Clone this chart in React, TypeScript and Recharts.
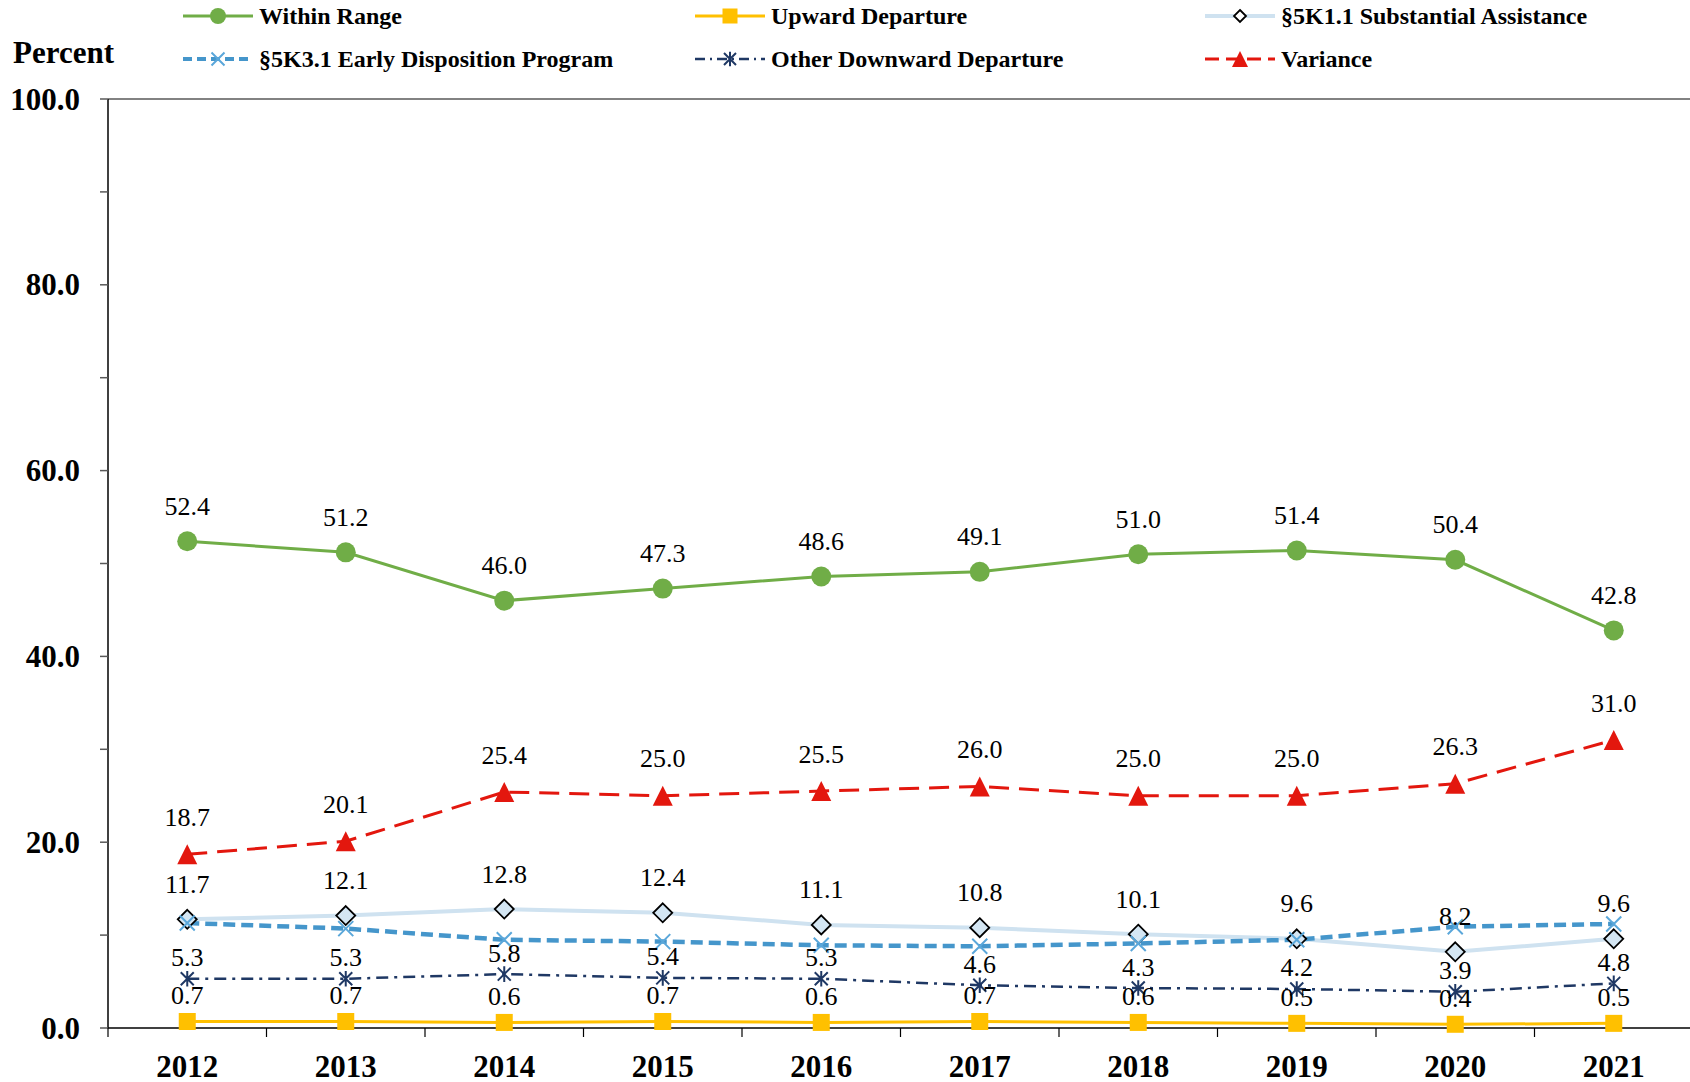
import React from "react";
import {LineChart, Line, XAxis, YAxis, ReferenceLine, LabelList} from "recharts";

const years = ["2012", "2013", "2014", "2015", "2016", "2017", "2018", "2019", "2020", "2021"];
const withinRange = [52.4, 51.2, 46.0, 47.3, 48.6, 49.1, 51.0, 51.4, 50.4, 42.8];
const upwardDeparture = [0.7, 0.7, 0.6, 0.7, 0.6, 0.7, 0.6, 0.5, 0.4, 0.5];
const substantialAssistance = [11.7, 12.1, 12.8, 12.4, 11.1, 10.8, 10.1, 9.6, 8.2, 9.6];
const earlyDisposition = [11.3, 10.7, 9.5, 9.3, 8.9, 8.8, 9.1, 9.5, 10.9, 11.2];
const otherDownward = [5.3, 5.3, 5.8, 5.4, 5.3, 4.6, 4.3, 4.2, 3.9, 4.8];
const variance = [18.7, 20.1, 25.4, 25.0, 25.5, 26.0, 25.0, 25.0, 26.3, 31.0];
const yTicks = [0, 10, 20, 30, 40, 50, 60, 70, 80, 90, 100];

const data = years.map((year, i) => ({
  i,
  year,
  within: withinRange[i],
  upward: upwardDeparture[i],
  assist: substantialAssistance[i],
  early: earlyDisposition[i],
  other: otherDownward[i],
  variance: variance[i],
}));

const FONT = '"Liberation Serif", "Times New Roman", serif';
const W = 1690;
const H = 1082;
const Y_AXIS_W = 108;
const RIGHT = -3; // plot runs a little past the window edge, as in the original
const BW = (W - Y_AXIS_W - RIGHT) / years.length;

const GREEN = "#70AD47";
const GOLD = "#FFC000";
const PALE = "#CFE2F0";
const MID_BLUE = "#4596CB";
const X_BLUE = "#5AA7DA";
const NAVY = "#1F3864";
const RED = "#E3170E";

// marker shapes
const circle = (cx: number, cy: number, r: number) => <circle cx={cx} cy={cy} r={r} fill={GREEN} />;
const square = (cx: number, cy: number, s: number) => (
  <rect x={cx - s / 2} y={cy - s / 2} width={s} height={s} fill={GOLD} />
);
const diamond = (cx: number, cy: number, s: number, fill = "#D4E6F3") => (
  <path d={`M${cx},${cy - s / 2} L${cx + s / 2},${cy} L${cx},${cy + s / 2} L${cx - s / 2},${cy} Z`} fill={fill} stroke="#000" strokeWidth={1.8} />
);
const cross = (cx: number, cy: number, s: number) => (
  <path d={`M${cx - s / 2},${cy - s / 2} L${cx + s / 2},${cy + s / 2} M${cx - s / 2},${cy + s / 2} L${cx + s / 2},${cy - s / 2}`} stroke={X_BLUE} strokeWidth={2} fill="none" />
);
const star = (cx: number, cy: number, s: number) => (
  <path d={`M${cx - s / 2},${cy - s / 2} L${cx + s / 2},${cy + s / 2} M${cx - s / 2},${cy + s / 2} L${cx + s / 2},${cy - s / 2} M${cx},${cy - s * 0.6} L${cx},${cy + s * 0.6}`} stroke={NAVY} strokeWidth={2} fill="none" />
);
const triangle = (cx: number, cy: number, s: number) => (
  <path d={`M${cx},${cy - s / 2} L${cx + s / 2},${cy + s / 2} L${cx - s / 2},${cy + s / 2} Z`} fill={RED} />
);

const dotOf = (draw: (cx: number, cy: number) => React.ReactElement) => (props: any) => (
  <g key={`d-${props.index}`}>{draw(props.cx, props.cy)}</g>
);

const makeLabel = (dy: number) => (props: any) => {
  const {x, y, value} = props;
  return (
    <text x={x} y={y - dy} textAnchor="middle" dominantBaseline="central" fontSize={26} fontFamily={FONT} fill="#000">
      {Number(value).toFixed(1)}
    </text>
  );
};

const YTick = ({x, y, payload}: any) => {
  if (payload.value % 20 !== 0) return <g />;
  return (
    <text x={x} y={y} textAnchor="end" dominantBaseline="central" fontSize={31} fontWeight="bold" fontFamily={FONT} fill="#000">
      {payload.value.toFixed(1)}
    </text>
  );
};

const XTick = ({x, y, payload}: any) => (
  <g>
    <line x1={x - BW / 2} x2={x - BW / 2} y1={y} y2={y + 9} stroke="#000" strokeWidth={1.2} />
    <text x={x} y={y + 38} textAnchor="middle" dominantBaseline="central" fontSize={31} fontWeight="bold" fontFamily={FONT} fill="#000">
      {years[payload.value]}
    </text>
  </g>
);

type LegendItem = {
  name: string;
  left: number;
  top: number;
  color: string;
  width: number;
  dash?: string;
  marker: (cx: number, cy: number) => React.ReactElement;
};

const legendItems: LegendItem[] = [
  {name: "Within Range", left: 183, top: 16, color: GREEN, width: 3, marker: (cx, cy) => circle(cx, cy, 8)},
  {name: "Upward Departure", left: 695, top: 16, color: GOLD, width: 3, marker: (cx, cy) => square(cx, cy, 15)},
  {name: "§5K1.1 Substantial Assistance", left: 1205, top: 16, color: PALE, width: 4, marker: (cx, cy) => diamond(cx, cy, 12, "#FFFFFF")},
  {name: "§5K3.1 Early Disposition Program", left: 183, top: 59, color: MID_BLUE, width: 4, dash: "9 5", marker: (cx, cy) => cross(cx, cy, 13)},
  {name: "Other Downward Departure", left: 695, top: 59, color: NAVY, width: 2.5, dash: "10 5 2 5", marker: (cx, cy) => star(cx, cy, 12)},
  {name: "Variance", left: 1205, top: 59, color: RED, width: 3, dash: "14 7", marker: (cx, cy) => triangle(cx, cy, 16)},
];

const ChartLegend = () => (
  <>
    {legendItems.map((item) => (
      <div
        key={item.name}
        style={{position: "absolute", left: item.left, top: item.top - 15, height: 30, display: "flex", alignItems: "center"}}
      >
        <svg width={72} height={30}>
          <line x1={0} x2={70} y1={15} y2={15} stroke={item.color} strokeWidth={item.width} strokeDasharray={item.dash} />
          {item.marker(35, 15)}
        </svg>
        <span style={{marginLeft: 4, fontFamily: FONT, fontWeight: "bold", fontSize: 24, whiteSpace: "nowrap"}}>{item.name}</span>
      </div>
    ))}
  </>
);

const App = () => (
  <div style={{position: "absolute", left: 0, top: 0, width: W, height: H, background: "#fff", overflow: "hidden"}}>
    <div style={{position: "absolute", left: 13, top: 34, fontFamily: FONT, fontWeight: "bold", fontSize: 31, lineHeight: "38px"}}>
      Percent
    </div>
    <ChartLegend />
    <LineChart width={W} height={H} data={data} margin={{top: 99, right: RIGHT, bottom: 0, left: 0}}>
      <XAxis
        dataKey="i"
        type="number"
        domain={[-0.5, 9.5]}
        ticks={years.map((_, i) => i)}
        height={54}
        axisLine={{stroke: "#000", strokeWidth: 1.5}}
        tickLine={false}
        tickSize={0}
        tickMargin={0}
        tick={<XTick />}
        interval={0}
      />
      <YAxis
        type="number"
        domain={[0, 100]}
        ticks={yTicks}
        width={Y_AXIS_W}
        axisLine={{stroke: "#000", strokeWidth: 1.5}}
        tickLine={{stroke: "#595959", strokeWidth: 1.5}}
        tickSize={8}
        tickMargin={20}
        tick={<YTick />}
        interval={0}
      />
      <ReferenceLine y={100} stroke="#595959" strokeWidth={1.5} />
      <Line
        dataKey="assist"
        stroke={PALE}
        strokeWidth={4}
        isAnimationActive={false}
        activeDot={false}
        dot={dotOf((cx, cy) => diamond(cx, cy, 19))}
      >
        <LabelList dataKey="assist" content={makeLabel(35)} />
      </Line>
      <Line
        dataKey="early"
        stroke={MID_BLUE}
        strokeWidth={4.5}
        strokeDasharray="12 6"
        isAnimationActive={false}
        activeDot={false}
        dot={dotOf((cx, cy) => cross(cx, cy, 15))}
      />
      <Line
        dataKey="other"
        stroke={NAVY}
        strokeWidth={2.5}
        strokeDasharray="12 6 3 6"
        isAnimationActive={false}
        activeDot={false}
        dot={dotOf((cx, cy) => star(cx, cy, 13))}
      >
        <LabelList dataKey="other" content={makeLabel(21)} />
      </Line>
      <Line
        dataKey="upward"
        stroke={GOLD}
        strokeWidth={3}
        isAnimationActive={false}
        activeDot={false}
        dot={dotOf((cx, cy) => square(cx, cy, 17))}
      >
        <LabelList dataKey="upward" content={makeLabel(26)} />
      </Line>
      <Line
        dataKey="variance"
        stroke={RED}
        strokeWidth={3}
        strokeDasharray="20 10"
        isAnimationActive={false}
        activeDot={false}
        dot={dotOf((cx, cy) => triangle(cx, cy, 20))}
      >
        <LabelList dataKey="variance" content={makeLabel(37)} />
      </Line>
      <Line
        dataKey="within"
        stroke={GREEN}
        strokeWidth={3}
        isAnimationActive={false}
        activeDot={false}
        dot={dotOf((cx, cy) => circle(cx, cy, 10))}
      >
        <LabelList dataKey="within" content={makeLabel(35)} />
      </Line>
    </LineChart>
  </div>
);

export default App;
